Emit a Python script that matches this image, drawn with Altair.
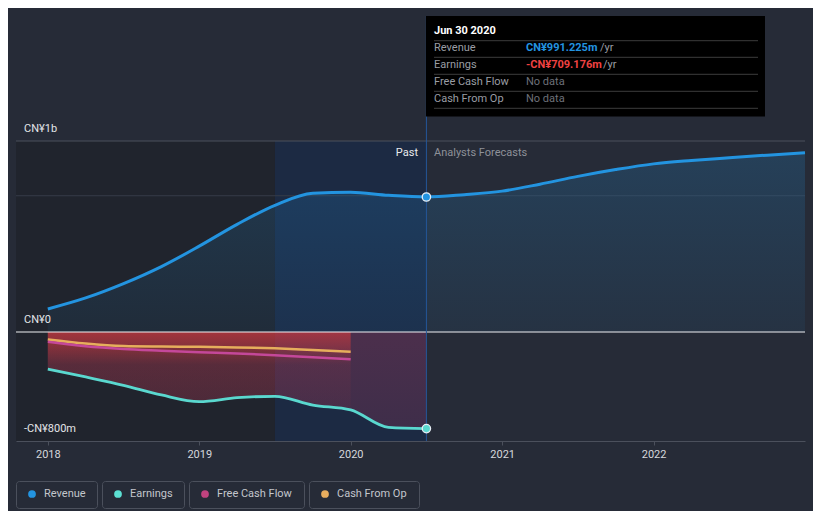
import altair as alt
import pandas as pd

BG = "#262b37"
FONT = "Roboto"

# ---------------- data (values in CN¥ billions) ----------------
years = [2018, 2019, 2020, 2021, 2022]

rev_x = [2018.0, 2018.25, 2018.5, 2018.75, 2019.0, 2019.25, 2019.5, 2019.75, 2020.0, 2020.25, 2020.5,
         2020.75, 2021.0, 2021.25, 2021.5, 2021.75, 2022.0, 2022.25, 2022.5, 2022.75, 2023.0]
revenue = [0.169, 0.25, 0.355, 0.48, 0.63, 0.79, 0.93, 1.018, 1.025, 1.003, 0.991,
           1.008, 1.034, 1.085, 1.142, 1.192, 1.234, 1.259, 1.279, 1.298, 1.316]

earn_x = [2018.0, 2018.25, 2018.5, 2018.75, 2019.0, 2019.25, 2019.5, 2019.75, 2020.0, 2020.25, 2020.5]
earnings = [-0.272, -0.33, -0.391, -0.462, -0.511, -0.482, -0.472, -0.536, -0.572, -0.70, -0.709]

cash_x = [2018.0, 2018.25, 2018.5, 2018.75, 2019.0, 2019.25, 2019.5, 2019.75, 2020.0]
free_cash_flow = [-0.072, -0.105, -0.125, -0.137, -0.148, -0.158, -0.17, -0.185, -0.2]
cash_from_op = [-0.055, -0.085, -0.103, -0.107, -0.109, -0.113, -0.12, -0.132, -0.145]

y_label_vals = [1.4018, 0.0, -0.8]
y_label_text = ["CN¥1b", "CN¥0", "-CN¥800m"]

x_domain = [2017.79, 2023.0]
y_domain = [-0.8, 2.3633]
past_end = 2020.5
last_year_start = 2019.5
top_grid = 1.4018

legend_names = ["Revenue", "Earnings", "Free Cash Flow", "Cash From Op"]
legend_colors = ["#2394e0", "#5ce0d3", "#c0437f", "#e8ad5e"]

tooltip_date = "Jun 30 2020"
tooltip_rows = [("Revenue", "CN¥991.225m", "#2394e0"),
                ("Earnings", "-CN¥709.176m", "#ef4242"),
                ("Free Cash Flow", "No data", "#6d7079"),
                ("Cash From Op", "No data", "#6d7079")]

REV_C = "#2394e0"
EARN_C = "#5ad8cf"
FCF_C = "#c4489a"
CFO_C = "#e6ae5c"

# ---------------- frames ----------------
rev_df = pd.DataFrame({"x": rev_x, "y": revenue, "zero": 0.0})
earn_df = pd.DataFrame({"x": earn_x, "y": earnings, "zero": 0.0})
earn_past_cash = earn_df[earn_df["x"] <= 2020.0]
fcf_df = pd.DataFrame({"x": cash_x, "y": free_cash_flow})
cfo_df = pd.DataFrame({"x": cash_x, "y": cash_from_op})
one = pd.DataFrame({"k": [0]})

xs = alt.Scale(domain=x_domain, nice=False, zero=False)
ys = alt.Scale(domain=y_domain, nice=False, zero=False)
XAX = alt.Axis(values=years, format="d", title=None, grid=False,
               labelColor="#d5d7dc", labelFontSize=11, labelFont=FONT,
               domainColor="#4b505c", tickColor="#4b505c", tickSize=4,
               labelPadding=3, labelFlush=False, labelOverlap=False)


def X(f="x"):
    return alt.X(f"{f}:Q", scale=xs, axis=XAX)


def Y(f="y"):
    return alt.Y(f"{f}:Q", scale=ys, axis=None)


def grad(stops):
    return alt.LinearGradient(
        gradient="linear",
        stops=[alt.GradientStop(color=c, offset=o) for o, c in stops],
        x1=0, x2=0, y1=0, y2=1)


layers = []

# background regions
past_rect = pd.DataFrame({"x": [x_domain[0]], "x2": [past_end], "y": [y_domain[0]], "y2": [top_grid]})
layers.append(alt.Chart(past_rect).mark_rect(color="#20242d").encode(
    x=X(), x2="x2:Q", y=Y(), y2="y2:Q"))
hl_rect = pd.DataFrame({"x": [last_year_start], "x2": [past_end], "y": [y_domain[0]], "y2": [top_grid]})
layers.append(alt.Chart(hl_rect).mark_rect(color="rgba(18,58,125,0.28)").encode(
    x=X(), x2="x2:Q", y=Y(), y2="y2:Q"))

# grid lines
grid_df = pd.DataFrame({"y": [top_grid, 1.0], "x": [x_domain[0]] * 2, "x2": [x_domain[1]] * 2,
                        "c": ["#4b505c", "#363c49"]})
layers.append(alt.Chart(grid_df).mark_rule(strokeWidth=1).encode(
    x=X(), x2="x2:Q", y=Y(), color=alt.Color("c:N", scale=None)))

# areas
layers.append(alt.Chart(rev_df).mark_area(
    interpolate="monotone",
    fill=grad([(0, "rgba(35,148,224,0.20)"), (1, "rgba(35,148,224,0.07)")])).encode(
    x=X(), y=Y(), y2="zero:Q"))
layers.append(alt.Chart(earn_df).mark_area(
    interpolate="monotone",
    fill=grad([(0, "rgba(200,60,100,0.28)"), (1, "rgba(200,60,100,0.20)")])).encode(
    x=X(), y=Y(), y2="zero:Q"))
layers.append(alt.Chart(earn_past_cash).mark_area(
    interpolate="monotone",
    fill=grad([(0, "rgba(225,60,60,0.58)"), (0.2, "rgba(225,60,60,0.36)"),
               (0.42, "rgba(225,60,60,0.09)"), (1, "rgba(225,60,60,0.04)")])).encode(
    x=X(), y=Y(), y2="zero:Q"))

# zero line
zero_df = pd.DataFrame({"x": [x_domain[0]], "x2": [x_domain[1]], "y": [0.0]})
layers.append(alt.Chart(zero_df).mark_rule(color="#eef0f3", strokeWidth=1.2).encode(
    x=X(), x2="x2:Q", y=Y()))

# lines
layers.append(alt.Chart(cfo_df).mark_line(interpolate="monotone", color=CFO_C, strokeWidth=2.5).encode(x=X(), y=Y()))
layers.append(alt.Chart(fcf_df).mark_line(interpolate="monotone", color=FCF_C, strokeWidth=2.5).encode(x=X(), y=Y()))
layers.append(alt.Chart(earn_df).mark_line(interpolate="monotone", color=EARN_C, strokeWidth=2.8).encode(x=X(), y=Y()))
layers.append(alt.Chart(rev_df).mark_line(interpolate="monotone", color=REV_C, strokeWidth=3).encode(x=X(), y=Y()))

# vertical marker line at the tooltip date
vline = pd.DataFrame({"x": [past_end]})
layers.append(alt.Chart(vline).mark_rule(color="#24579a", strokeWidth=1).encode(
    x=X(), y=alt.value(6), y2=alt.value(431)))

# points at the tooltip date
pts = pd.DataFrame({"x": [past_end, past_end], "y": [revenue[10], earnings[10]], "c": [REV_C, EARN_C]})
layers.append(alt.Chart(pts).mark_point(filled=True, size=70, stroke="#e6edf5", strokeWidth=1.3, opacity=1).encode(
    x=X(), y=Y(), fill=alt.Fill("c:N", scale=None)))

# y labels
ylab = pd.DataFrame({"y": y_label_vals, "t": y_label_text})
layers.append(alt.Chart(ylab).mark_text(align="left", baseline="middle", dy=-12, color="#e3e5e8",
                                        fontSize=11, font=FONT).encode(
    x=alt.value(8), y=Y(), text="t:N"))

# past / forecast labels
layers.append(alt.Chart(one).mark_text(text="Past", align="right", baseline="middle", color="#e8eaee",
                                       fontSize=11, font=FONT).encode(x=alt.value(402), y=alt.value(143)))
layers.append(alt.Chart(one).mark_text(text="Analysts Forecasts", align="left", baseline="middle",
                                       color="#8e9199", fontSize=11, font=FONT).encode(
    x=alt.value(418), y=alt.value(143)))

# tooltip box
layers.append(alt.Chart(one).mark_rect(color="#000000").encode(
    x=alt.value(410), x2=alt.value(749), y=alt.value(6), y2=alt.value(106.5)))
layers.append(alt.Chart(one).mark_text(text=tooltip_date, align="left", baseline="middle", color="#ffffff",
                                       fontSize=11, fontWeight="bold", font=FONT).encode(
    x=alt.value(418), y=alt.value(21)))
sep_y = [30.7, 47.3, 64.3, 81.3, 98.3]
for sy in sep_y:
    layers.append(alt.Chart(one).mark_rule(color="#3c3c3c", strokeWidth=1).encode(
        x=alt.value(418), x2=alt.value(742), y=alt.value(sy)))
row_y = [38.3, 55.0, 72.0, 89.3]
for (lab, val, col), ry in zip(tooltip_rows, row_y):
    layers.append(alt.Chart(one).mark_text(text=lab, align="left", baseline="middle", color="#9a9da4",
                                           fontSize=11, font=FONT).encode(x=alt.value(418), y=alt.value(ry)))
    bold = "bold" if val != "No data" else "normal"
    layers.append(alt.Chart(one).mark_text(text=val, align="left", baseline="middle", color=col,
                                           fontSize=11, fontWeight=bold, font=FONT).encode(
        x=alt.value(510), y=alt.value(ry)))
    if val != "No data":
        off = 584 if not val.startswith("-") else 587
        layers.append(alt.Chart(one).mark_text(text="/yr", align="left", baseline="middle", color="#9a9da4",
                                               fontSize=11, font=FONT).encode(x=alt.value(off), y=alt.value(ry)))

# legend
box_x = [(0.5, 81.5), (86.5, 168.5), (173.5, 288.5), (293.5, 403.5)]
for (x0, x1), name, col in zip(box_x, legend_names, legend_colors):
    layers.append(alt.Chart(one).mark_rect(fill=BG, stroke="#4b505c", strokeWidth=1, cornerRadius=3).encode(
        x=alt.value(x0), x2=alt.value(x1), y=alt.value(471.5), y2=alt.value(498.5)))
    layers.append(alt.Chart(one).mark_point(filled=True, size=60, color=col, opacity=1).encode(
        x=alt.value(x0 + 15.5), y=alt.value(484)))
    layers.append(alt.Chart(one).mark_text(text=name, align="left", baseline="middle", color="#c3c6cc",
                                           fontSize=11, font=FONT).encode(
        x=alt.value(x0 + 27.5), y=alt.value(484)))

chart = alt.layer(*layers).properties(
    width=789, height=431,
    autosize=alt.AutoSizeParams(type="none"),
    padding={"left": 8, "top": 2, "right": 8, "bottom": 70},
).configure(background=BG, font=FONT).configure_view(strokeWidth=0)

chart.save("out.html", embed_options={"renderer": "svg", "actions": False})
